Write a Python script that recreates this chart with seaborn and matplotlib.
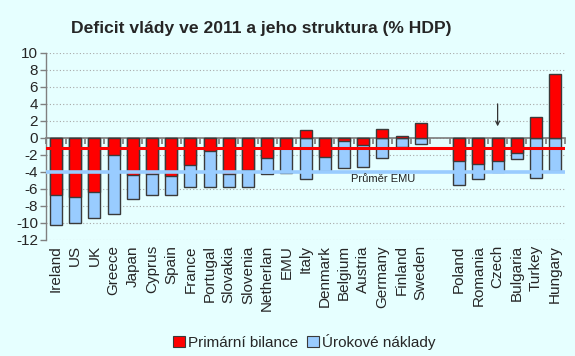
import numpy as np
import pandas as pd
import matplotlib
matplotlib.use("Agg")
import matplotlib.pyplot as plt
import seaborn as sns

countries = ["Ireland", "US", "UK", "Greece", "Japan", "Cyprus", "Spain", "France",
             "Portugal", "Slovakia", "Slovenia", "Netherlan", "EMU", "Italy", "Denmark",
             "Belgium", "Austria", "Germany", "Finland", "Sweden",
             "Poland", "Romania", "Czech", "Bulgaria", "Turkey", "Hungary"]
primary = [-6.8, -7.0, -6.4, -2.1, -4.4, -4.3, -4.5, -3.25,
           -1.57, -4.27, -3.84, -2.43, -1.18, 0.94, -2.24,
           -0.4, -0.86, 1.06, 0.14, 1.69,
           -2.78, -3.06, -2.71, -1.76, 2.43, 7.53]
interest = [-3.5, -3.0, -3.05, -6.85, -2.8, -2.4, -2.2, -2.55,
            -4.2, -1.5, -1.92, -1.88, -2.97, -4.9, -1.69,
            -3.14, -2.59, -2.43, -1.14, -0.78,
            -2.82, -1.84, -1.33, -0.74, -4.8, -3.92]
gap_label = " "
order = countries[:20] + [gap_label] + countries[20:]
emu_primary_line = -1.25
emu_total_line = -4.1
emu_label = "Průměr EMU"
arrow_country = "Czech"
yticks = list(range(-12, 11, 2))
legend_labels = ["Primární bilance", "Úrokové náklady"]
title = "Deficit vlády ve 2011 a jeho struktura (% HDP)"

RED = "#FF0000"
BLUE = "#99CCFF"
EDGE = "#3A3A3A"
BG = "#E6FFFF"

sns.set_theme(style="white")
plt.rcParams["font.family"] = ["Liberation Sans", "DejaVu Sans"]
plt.rcParams["axes.unicode_minus"] = False

df = pd.DataFrame({"country": countries, "primary": primary, "interest": interest})
df["blue_total"] = np.minimum(df["primary"], 0) + df["interest"]

fig = plt.figure(figsize=(5.75, 3.56), dpi=100, facecolor=BG)
ax = fig.add_axes([0.0807, 0.327, 0.9016, 0.525])
ax.set_facecolor(BG)

sns.barplot(data=df, x="country", y="blue_total", order=order, color=BLUE,
            width=0.63, edgecolor=EDGE, linewidth=1.0, saturation=1, ax=ax, zorder=2)
sns.barplot(data=df, x="country", y="primary", order=order, color=RED,
            width=0.63, edgecolor=EDGE, linewidth=1.0, saturation=1, ax=ax, zorder=2)

ax.set_xlim(-0.5, len(order) - 0.5)
ax.set_ylim(-12, 10)
ax.set_yticks(yticks)
ax.set_yticklabels([str(t) for t in yticks], fontsize=11)
ax.set_xlabel("")
ax.set_ylabel("")
ax.set_xticks(range(len(order)))
ax.set_xticklabels(order, rotation=90, fontsize=11, va="top")
ax.tick_params(axis="x", length=0, pad=4)
ax.tick_params(axis="y", length=4, width=1, color="#808080", direction="out", pad=2, left=True)

for y in yticks:
    ax.axhline(y, color="#A8A8A8", lw=0.8, ls=(0, (1, 2)), zorder=0)

for s in ["top", "right", "bottom"]:
    ax.spines[s].set_visible(False)
ax.spines["left"].set_color("#808080")
ax.spines["left"].set_linewidth(1)

# zero axis with category-boundary ticks
sec = ax.secondary_xaxis(12 / 22)
sec.set_xticks(np.arange(-0.5, len(order), 1.0))
sec.tick_params(axis="x", direction="in", length=4, color="#808080", labeltop=False, labelbottom=False)
sec.spines["top"].set_color("#808080")
sec.spines["bottom"].set_color("#808080")

ax.axhline(emu_primary_line, color=RED, lw=2.2, zorder=4)
ax.axhline(emu_total_line, color=BLUE, lw=2.6, zorder=4)
ax.text(15.35, -4.85, emu_label, fontsize=8, color="#222222", va="center", ha="left", zorder=5)

cx = order.index(arrow_country)
ax.annotate("", xy=(cx, 1.0), xytext=(cx, 4.3),
            arrowprops=dict(arrowstyle="->", color="#333333", lw=0.9, mutation_scale=7), zorder=5)

fig.text(0.454, 0.921, title, fontsize=12.6, fontweight="bold", ha="center", va="center")

handles = [plt.Rectangle((0, 0), 1, 1, facecolor=RED, edgecolor=EDGE, lw=0.8),
           plt.Rectangle((0, 0), 1, 1, facecolor=BLUE, edgecolor=EDGE, lw=0.8)]
fig.legend(handles, legend_labels, loc="center", bbox_to_anchor=(0.529, 0.04), ncol=2,
           frameon=False, fontsize=11, handlelength=0.8, handleheight=0.8,
           handletextpad=0.2, columnspacing=0.6, borderaxespad=0)

fig.savefig("out.png", dpi=100, facecolor=BG)
